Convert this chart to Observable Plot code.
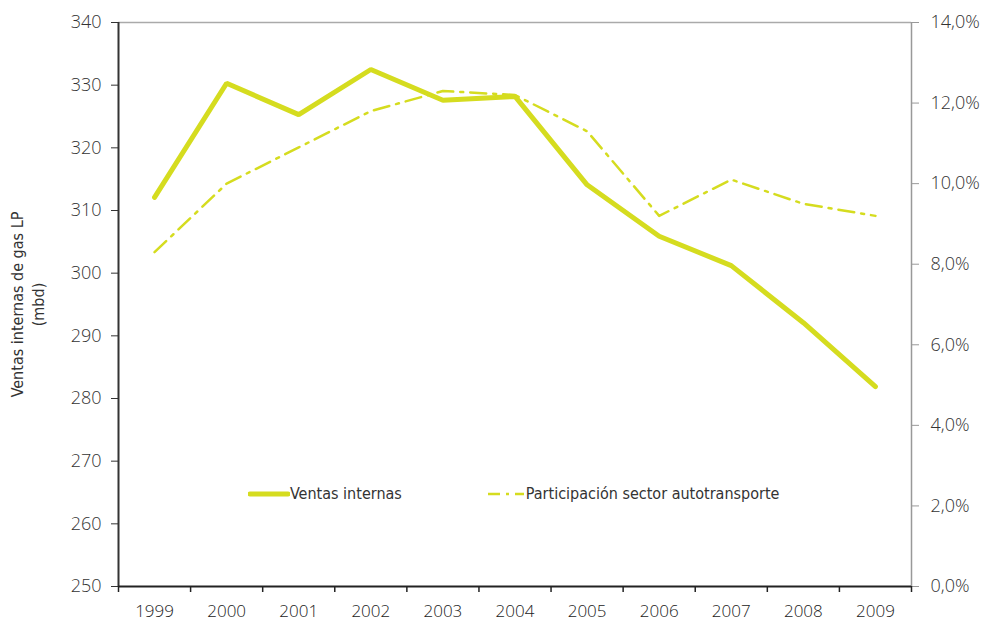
<!DOCTYPE html>
<html>
<head>
<meta charset="utf-8">
<script src="https://cdn.jsdelivr.net/npm/d3@7"></script>
<script src="https://cdn.jsdelivr.net/npm/@observablehq/plot@0.6"></script>
<style>
  html, body { margin: 0; padding: 0; background: #fff; }
  #wrap { position: relative; width: 988px; height: 626px; }
  #legend { position: absolute; top: 484px; left: 248px; display: flex; align-items: center;
    font-family: "Liberation Sans Narrow", "DejaVu Sans Condensed", sans-serif; font-size: 16px; color: #333; }
  #legend .item { display: flex; align-items: center; }
  #legend svg { display: block; }
</style>
</head>
<body>
<div id="wrap"></div>
<script>
const years = [1999, 2000, 2001, 2002, 2003, 2004, 2005, 2006, 2007, 2008, 2009];
const ventas = [312.1, 330.3, 325.3, 332.5, 327.6, 328.2, 314.1, 305.9, 301.2, 292.1, 281.9];
const participacion = [8.3, 10.0, 10.9, 11.8, 12.3, 12.2, 11.3, 9.2, 10.1, 9.5, 9.2];
const leftTicks = [250, 260, 270, 280, 290, 300, 310, 320, 330, 340];
const rightTicks = [0, 2, 4, 6, 8, 10, 12, 14];
const seriesNames = ["Ventas internas", "Participación sector autotransporte"];
const yLabel = "Ventas internas de gas LP\n(mbd)";

const color = "#d5dc1f";
const yMin = 250, yMax = 340, pMax = 14;
const toLeft = p => yMin + p * (yMax - yMin) / pMax;
const boundaries = [...years.map(y => y - 0.5), years[years.length - 1] + 0.5];

const dataV = years.map((y, i) => ({year: y, v: ventas[i]}));
const dataP = years.map((y, i) => ({year: y, v: toLeft(participacion[i])}));

const chart = Plot.plot({
  width: 988,
  height: 626,
  marginLeft: 118,
  marginRight: 77,
  marginTop: 22,
  marginBottom: 40,
  style: {fontFamily: "'Open Sans', sans-serif", fontSize: "18px", color: "#333", background: "#fff", fontWeight: 300},
  x: {type: "linear", domain: [years[0] - 0.5, years[years.length - 1] + 0.5]},
  y: {domain: [yMin, yMax]},
  marks: [
    Plot.ruleY([yMax], {stroke: "#aaa", strokeWidth: 1.5}),
    Plot.ruleX([boundaries[boundaries.length - 1]], {stroke: "#999", strokeWidth: 1.5}),
    Plot.axisY({anchor: "right", ticks: rightTicks.map(toLeft), tickSize: 7, tickPadding: 12, stroke: "#999",
      tickFormat: v => d3.format(".1f")((v - yMin) * pMax / (yMax - yMin)).replace(".", ",") + "%", label: null, fill: "#333"}),
    Plot.axisY({anchor: "left", ticks: leftTicks, tickSize: 7, tickPadding: 10, label: null, stroke: "#333", fill: "#333"}),
    Plot.axisX({ticks: years, tickSize: 0, tickPadding: 18, tickFormat: d => String(d), label: null, fill: "#222", fontSize: 17}),
    Plot.axisX({ticks: boundaries, tickSize: 6, tickFormat: () => "", label: null, stroke: "#222", strokeWidth: 1.5}),
    Plot.ruleX([boundaries[0]], {stroke: "#333", strokeWidth: 2}),
    Plot.ruleY([yMin], {stroke: "#222", strokeWidth: 2}),
    Plot.line(dataP, {x: "year", y: "v", stroke: color, strokeWidth: 2.5, strokeDasharray: "16,7,3,7"}),
    Plot.line(dataV, {x: "year", y: "v", stroke: color, strokeWidth: 5, strokeLinejoin: "miter"}),
    Plot.text([yLabel], {frameAnchor: "left", rotate: -90, dx: -92, dy: 0, fill: "#333", fontSize: 16,
      fontFamily: "'Liberation Sans Narrow', 'DejaVu Sans Condensed', sans-serif", lineHeight: 1.35, textAnchor: "middle"})
  ]
});
const wrap = document.getElementById("wrap");
wrap.appendChild(chart);

const legend = document.createElement("div");
legend.id = "legend";
legend.innerHTML = `
  <div class="item"><svg width="42" height="10"><line x1="2" y1="5" x2="40" y2="5" stroke="${color}" stroke-width="5" stroke-linecap="round"/></svg><span>${seriesNames[0]}</span></div>
  <div class="item" style="margin-left:84px"><svg width="40" height="10"><line x1="2" y1="5" x2="38" y2="5" stroke="${color}" stroke-width="2.5" stroke-dasharray="12,6,3,6"/></svg><span>${seriesNames[1]}</span></div>`;
wrap.appendChild(legend);
</script>
</body>
</html>
